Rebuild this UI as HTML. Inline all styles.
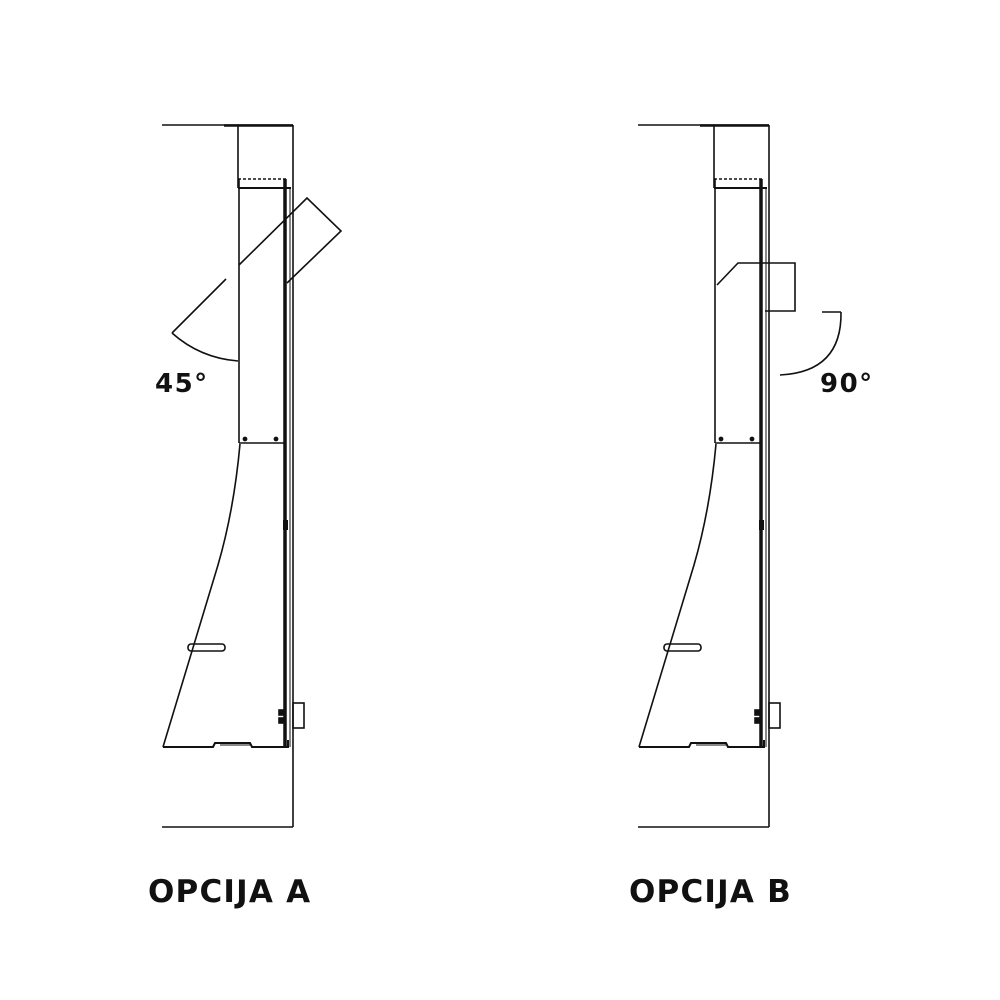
<!DOCTYPE html>
<html><head><style>
html,body{margin:0;padding:0;background:#fff;}
svg{display:block}
text{font-family:"DejaVu Sans","Liberation Sans",sans-serif;font-weight:bold;fill:#111}
</style></head><body>
<svg width="1000" height="1000" viewBox="0 0 1000 1000" xmlns="http://www.w3.org/2000/svg">
<defs>
<g id="base" fill="none" stroke="#111" stroke-width="1.6">
  <line x1="162" y1="125" x2="293" y2="125"/>
  <line x1="224" y1="125.5" x2="293" y2="125.5" stroke-width="2.5"/>
  <line x1="293" y1="125" x2="293" y2="827"/>
  <line x1="162" y1="827" x2="293" y2="827"/>
  <line x1="238" y1="125" x2="238" y2="188"/>
  <line x1="238" y1="179" x2="286" y2="179" stroke-dasharray="3,2"/>
  <line x1="238" y1="188" x2="291" y2="188" stroke-width="2"/>
  <line x1="239" y1="179" x2="239" y2="443"/>
  <line x1="285" y1="179" x2="285" y2="747" stroke-width="3.5"/>
  <line x1="290" y1="188" x2="290" y2="747" stroke-width="1"/>
  <line x1="239" y1="443" x2="285" y2="443"/>
  <circle cx="245" cy="439" r="1.6" fill="#111"/>
  <circle cx="276" cy="439" r="1.6" fill="#111"/>
  <path d="M240 444 Q234 510 218 565 L163 747"/>
  <path d="M163 747 L213 747 L215 743 L250 743 L252 747 L288 747 L288 740" stroke-width="2"/>
  <line x1="220" y1="745" x2="250" y2="745" stroke-width="1"/>
  <rect x="188" y="644" width="37" height="7" rx="3"/>
  <rect x="293" y="703" width="11" height="25"/>
  <rect x="279" y="710" width="4" height="5" fill="#111"/>
  <rect x="279" y="718" width="4" height="5" fill="#111"/>
  <rect x="283" y="520" width="5" height="10" fill="#111" stroke="none"/>
</g>
</defs>
<use href="#base"/>
<use href="#base" transform="translate(476,0)"/>
<g fill="none" stroke="#111" stroke-width="1.6">
  <polyline points="239,265 307,198 341,231 287,283"/>
  <line x1="226" y1="279" x2="172" y2="333"/>
  <path d="M172 333 Q200 358 238 361"/>
  <polyline points="717,285 738,263 767,263"/>
  <polyline points="767,263 795,263 795,311 765,311"/>
  <polyline points="822,312 841,312"/>
  <path d="M841 312 Q842 372 780 375"/>
</g>
<text x="155" y="392" font-size="26" letter-spacing="1.5">45°</text>
<text x="820" y="392" font-size="26" letter-spacing="1.5">90°</text>
<text x="148" y="902" font-size="31" letter-spacing="1.2">OPCIJA A</text>
<text x="629" y="902" font-size="31" letter-spacing="1.2">OPCIJA B</text>
</svg>
</body></html>
